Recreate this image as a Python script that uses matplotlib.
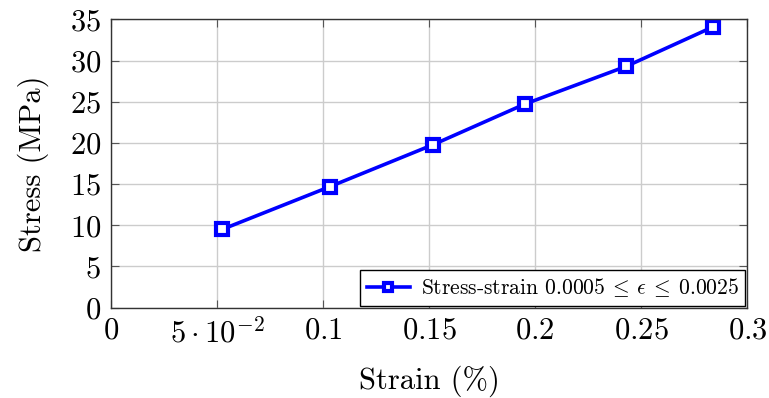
import matplotlib
matplotlib.use("Agg")
import matplotlib.pyplot as plt

plt.rcParams["font.family"] = "serif"
plt.rcParams["font.serif"] = ["cmr10", "DejaVu Serif"]
plt.rcParams["mathtext.fontset"] = "cm"
plt.rcParams["axes.unicode_minus"] = False

# measured stress-strain points
strain = [0.0524, 0.1033, 0.152, 0.195, 0.243, 0.284]
stress = [9.5, 14.7, 19.8, 24.7, 29.3, 34.1]

x_ticks = [0, 0.05, 0.1, 0.15, 0.2, 0.25, 0.3]
x_tick_labels = ["$0$", r"$5\cdot10^{-2}$", "$0.1$", "$0.15$", "$0.2$", "$0.25$", "$0.3$"]
y_ticks = [0, 5, 10, 15, 20, 25, 30, 35]

fig = plt.figure(figsize=(7.69, 3.98), dpi=100)
ax = fig.add_axes([0.1443, 0.2269, 0.8275, 0.7246])

ax.plot(strain, stress, color="blue", lw=2.6, marker="s", ms=8,
        mfc="white", mec="blue", mew=3.0,
        label=r"Stress-strain $0.0005\:\leq\:\epsilon\:\leq\:0.0025$")

ax.set_xlim(0, 0.3)
ax.set_ylim(0, 35)
ax.set_xticks(x_ticks)
ax.set_xticklabels(x_tick_labels)
ax.set_yticks(y_ticks)
ax.set_yticklabels([f"${v}$" for v in y_ticks])

ax.grid(True, color="#cccccc", lw=1.0)
ax.set_axisbelow(True)
ax.tick_params(direction="in", length=6, width=0.8, color="#555555",
               top=True, right=True, labelsize=22, pad=7)
for s in ax.spines.values():
    s.set_color("#333333")
    s.set_linewidth(1.0)

ax.set_xlabel("Strain (%)", fontsize=22, labelpad=12)
ax.set_ylabel("Stress (MPa)", fontsize=22, labelpad=15)

leg = ax.legend(loc="lower right", fontsize=15.5, frameon=True, fancybox=False,
                framealpha=1, edgecolor="black", borderaxespad=0.1,
                handlelength=2.0, handletextpad=0.5, borderpad=0.3,
                markerscale=0.7)
leg.get_frame().set_linewidth(1.0)

fig.savefig("out.png", dpi=100)
